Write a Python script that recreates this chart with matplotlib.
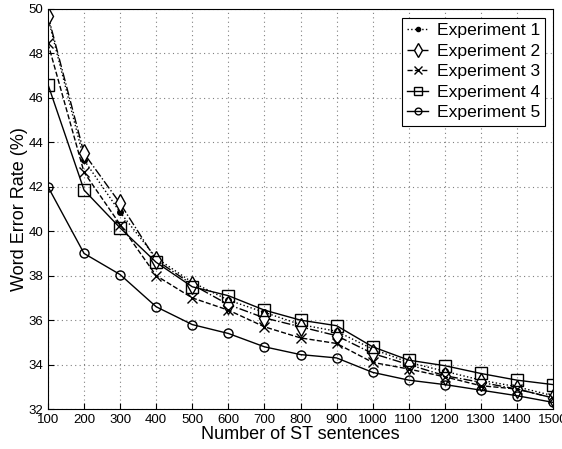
import matplotlib
matplotlib.use("Agg")
import matplotlib.pyplot as plt

plt.rcParams['font.family'] = ['Liberation Sans', 'DejaVu Sans']

# number of ST sentences
sentences = [100, 200, 300, 400, 500, 600, 700, 800, 900, 1000, 1100, 1200, 1300, 1400, 1500]

# word error rate (%) per experiment
exp1 = [49.6, 43.2, 40.85, 38.8, 37.7, 36.9, 36.35, 35.8, 35.5, 34.7, 34.1, 33.7, 33.3, 33.0, 32.6]
exp2 = [49.7, 43.5, 41.25, 38.7, 37.6, 36.7, 36.1, 35.7, 35.3, 34.5, 34.0, 33.5, 33.2, 32.9, 32.5]
exp3 = [48.45, 42.65, 40.3, 38.0, 37.0, 36.45, 35.7, 35.2, 34.95, 34.1, 33.8, 33.45, 33.05, 32.9, 32.5]
exp4 = [46.6, 41.85, 40.15, 38.6, 37.5, 37.1, 36.45, 36.0, 35.75, 34.8, 34.2, 33.95, 33.6, 33.3, 33.1]
exp5 = [42.0, 39.0, 38.05, 36.6, 35.8, 35.4, 34.8, 34.45, 34.3, 33.65, 33.3, 33.1, 32.85, 32.6, 32.3]

fig = plt.figure(figsize=(5.62, 4.49), dpi=100)
ax = fig.add_axes([0.0854, 0.089, 0.8986, 0.891])

ax.plot(sentences, exp1, color='black', linestyle=':', marker='.', markersize=8,
        linewidth=1, label='Experiment 1')
ax.plot(sentences, exp2, color='black', linestyle='-.', marker='d', markersize=9,
        markerfacecolor='white', linewidth=1, label='Experiment 2')
ax.plot(sentences, exp3, color='black', linestyle='--', marker='x', markersize=7,
        linewidth=1, label='Experiment 3')
ax.plot(sentences, exp4, color='black', linestyle='-', marker='s', markersize=8.5,
        markerfacecolor='none', linewidth=1, label='Experiment 4')
ax.plot(sentences, exp5, color='black', linestyle='-', marker='o', markersize=6.5,
        markerfacecolor='none', linewidth=1, label='Experiment 5')

ax.set_xlim(100, 1500)
ax.set_ylim(32, 50)
ax.set_xticks(sentences)
ax.set_yticks(range(32, 51, 2))
ax.tick_params(direction='in', labelsize=9.5, length=4)
ax.grid(True, linestyle=(0, (1, 3)), color='gray', linewidth=0.8)

ax.set_xlabel('Number of ST sentences', fontsize=13, labelpad=0)
ax.set_ylabel('Word Error Rate (%)', fontsize=13, labelpad=0)

leg = ax.legend(loc='upper right', bbox_to_anchor=(1.002, 0.9995), fontsize=12.6,
                fancybox=False, edgecolor='black', framealpha=1, markerscale=0.75,
                handlelength=1.2, borderpad=0.3, labelspacing=0.3, handletextpad=0.5)
leg.get_frame().set_linewidth(0.8)

fig.savefig('out.png', dpi=100)
